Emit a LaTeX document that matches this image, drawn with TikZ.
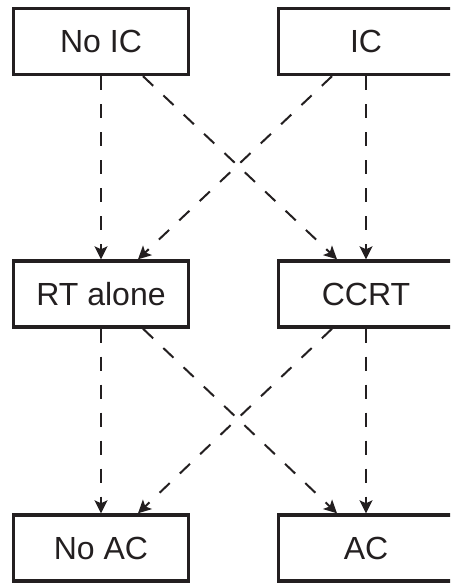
\documentclass[tikz,border=0pt]{standalone}
\usepackage{fontspec}
\setmainfont{Liberation Sans}
\usetikzlibrary{arrows.meta}
\definecolor{ink}{HTML}{231F20}
\begin{document}
\begin{tikzpicture}[x=1pt,y=1pt,
  box/.style={draw=ink, line width=3.4pt, minimum width=175pt, minimum height=66pt, inner sep=0pt,
    font=\fontsize{32}{38}\selectfont, text=ink},
  arr/.style={draw=ink, line width=2pt, dash pattern=on 14pt off 14pt,
    -{Stealth[length=13pt,width=13pt,inset=3pt]}}]
\useasboundingbox (0,0) rectangle (450,-585);
\clip (0,0) rectangle (450,-585);
\node[box] (noic) at (101,-41.5) {No IC};
\node[box] (ic) at (366,-41.5) {IC};
\node[box] (rt) at (101,-294) {RT alone};
\node[box] (ccrt) at (366,-294) {CCRT};
\node[box] (noac) at (101,-548) {No AC};
\node[box] (ac) at (366,-548) {AC};
\draw[arr] (noic.south) -- (rt.north);
\draw[arr] ([xshift=42pt]noic.south) -- ([xshift=-29pt]ccrt.north);
\draw[arr] ([xshift=-34pt]ic.south) -- ([xshift=37pt]rt.north);
\draw[arr] (ic.south) -- (ccrt.north);
\draw[arr] (rt.south) -- (noac.north);
\draw[arr] ([xshift=42pt]rt.south) -- ([xshift=-29pt]ac.north);
\draw[arr] ([xshift=-34pt]ccrt.south) -- ([xshift=37pt]noac.north);
\draw[arr] (ccrt.south) -- (ac.north);
\end{tikzpicture}
\end{document}
